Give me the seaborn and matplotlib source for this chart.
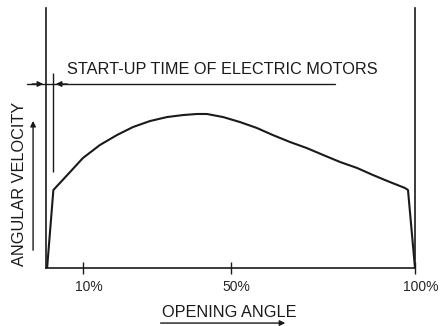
import numpy as np
import pandas as pd
import matplotlib
matplotlib.use("Agg")
import matplotlib.pyplot as plt
import matplotlib.transforms as mtransforms
import seaborn as sns

# curve (opening angle in %, angular velocity in arbitrary units)
opening_pct = [0.3, 2.0, 6.5, 10.0, 14.6, 19.2, 23.6, 28.2, 32.8, 37.1, 40.9, 43.6,
               48.0, 52.6, 57.2, 61.5, 66.1, 70.7, 75.1, 79.7, 84.3, 88.6, 93.2,
               97.3, 98.1, 100.0]
velocity = [0, 51.0, 62.7, 71.9, 80.4, 86.9, 92.2, 96.1, 98.7, 100.0, 100.7, 100.7,
            98.7, 95.4, 91.5, 86.9, 82.4, 78.4, 73.9, 69.3, 65.4, 60.8, 56.2,
            52.3, 51.0, 0]

tick_pos = [10, 50, 100]
tick_labels = ["10%", "50%", "100%"]

startup_end = 1.9
title_text = "START-UP TIME OF ELECTRIC MOTORS"
y_text = "ANGULAR VELOCITY"
x_text = "OPENING ANGLE"

sns.set_style("white")
plt.rcParams['font.family'] = ['Liberation Sans', 'DejaVu Sans']

fig = plt.figure(figsize=(4.4, 3.26), dpi=100)
ax = fig.add_axes([46 / 440, 58 / 326, 369 / 440, 260 / 326])

df = pd.DataFrame({"opening": opening_pct, "velocity": velocity})
sns.lineplot(data=df, x="opening", y="velocity", sort=False, estimator=None,
             color="#1a1a1a", lw=1.5, ax=ax)

ax.set_xlim(0, 100)
ax.set_ylim(0, 170)
ax.set_xlabel("")
ax.set_ylabel("")
ax.set_yticks([])
ax.set_xticks(tick_pos)
ax.set_xticklabels(tick_labels, fontsize=10)
ax.tick_params(axis="x", bottom=True, direction="inout", length=9, width=1,
               color="#1a1a1a", pad=4)
offset = mtransforms.ScaledTranslation(6 / 100, 0, fig.dpi_scale_trans)
for lab in ax.get_xticklabels():
    lab.set_transform(lab.get_transform() + offset)

for side in ["left", "right", "bottom"]:
    ax.spines[side].set_color("#1a1a1a")
    ax.spines[side].set_linewidth(1.2)
ax.spines["top"].set_visible(False)

# start-up marker
ax.vlines(startup_end, 62.7, 127.5, color="#1a1a1a", lw=1)
ax.plot([-5.1, 78.3], [120.3, 120.3], color="#1a1a1a", lw=1, clip_on=False)
ax.annotate("", xy=(0, 120.3), xytext=(-4.5, 120.3), annotation_clip=False,
            arrowprops=dict(arrowstyle="-|>", color="#1a1a1a", lw=1, mutation_scale=8))
ax.annotate("", xy=(startup_end, 120.3), xytext=(6.5, 120.3), annotation_clip=False,
            arrowprops=dict(arrowstyle="-|>", color="#1a1a1a", lw=1, mutation_scale=8))
ax.text(5.8, 129.5, title_text, fontsize=11.7, va="center", ha="left", color="#1a1a1a")

# axis titles with arrows
ax.text(-7.3, 55, y_text, fontsize=11.7, rotation=90, va="center", ha="center",
        color="#1a1a1a", clip_on=False)
ax.annotate("", xy=(-3.5, 98), xytext=(-3.5, 9.8), annotation_clip=False,
            arrowprops=dict(arrowstyle="-|>", color="#1a1a1a", lw=1, mutation_scale=8))
ax.text(49.7, -28.8, x_text, fontsize=11.7, va="center", ha="center",
        color="#1a1a1a", clip_on=False)
ax.annotate("", xy=(65.6, -36), xytext=(30.3, -36), annotation_clip=False,
            arrowprops=dict(arrowstyle="-|>", color="#1a1a1a", lw=1, mutation_scale=8))

fig.savefig("out.png", dpi=100)
